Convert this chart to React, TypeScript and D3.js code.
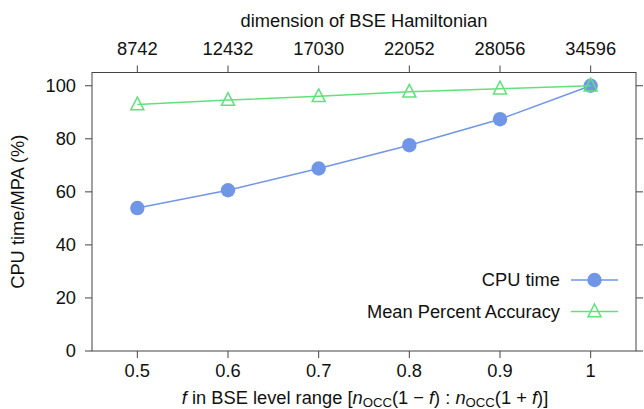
import React from "react";
import * as d3 from "d3";

const fValues = [0.5, 0.6, 0.7, 0.8, 0.9, 1.0];
const dimLabels = ["8742", "12432", "17030", "22052", "28056", "34596"];
const cpuTime = [53.9, 60.6, 68.8, 77.6, 87.4, 100];
const mpa = [92.9, 94.6, 96.0, 97.7, 98.9, 100];
const yTicks = [0, 20, 40, 60, 80, 100];
const xTickLabels = ["0.5", "0.6", "0.7", "0.8", "0.9", "1"];

const W = 644, H = 409;
const L = 92, R = 636, T = 72.5, B = 351;
const BLUE = "#7096e6";
const GREEN = "#5fe27c";
const AX = "#444";
const FONT = "'Liberation Sans', Arial, sans-serif";
const FS = 18.3;

export default function App() {
  const x = d3.scaleLinear().domain([0.45, 1.05]).range([L, R]);
  const y = d3.scaleLinear().domain([0, 105]).range([B, T]);
  const line = d3.line<number>().x((_, i) => x(fValues[i])).y((d) => y(d));
  const tri = (cx: number, cy: number, s = 6.5) =>
    `M${cx},${cy - s - 1}L${cx + s},${cy + s * 0.8}L${cx - s},${cy + s * 0.8}Z`;
  const tk = 7;
  return (
    <svg width={W} height={H} style={{ position: "absolute", left: 0, top: 0 }} fontFamily={FONT}>
      <rect width={W} height={H} fill="#fff" />
      {/* frame */}
      <rect x={L} y={T} width={R - L} height={B - T} fill="none" stroke={AX} strokeWidth={1} />
      {/* y ticks left & right */}
      {yTicks.map((t) => (
        <g key={"y" + t}>
          <line x1={L - tk} x2={L} y1={y(t)} y2={y(t)} stroke={AX} />
          <line x1={R} x2={R + tk} y1={y(t)} y2={y(t)} stroke={AX} />
          <text x={L - 16} y={y(t)} dy="0.35em" textAnchor="end" fontSize={FS} fill="#111">
            {t}
          </text>
        </g>
      ))}
      {/* x ticks bottom & top */}
      {fValues.map((f, i) => (
        <g key={"x" + f}>
          <line x1={x(f)} x2={x(f)} y1={B} y2={B + tk} stroke={AX} />
          <line x1={x(f)} x2={x(f)} y1={T - tk} y2={T} stroke={AX} />
          <text x={x(f)} y={377} textAnchor="middle" fontSize={FS} fill="#111">
            {xTickLabels[i]}
          </text>
          <text x={x(f)} y={55} textAnchor="middle" fontSize={FS} fill="#111">
            {dimLabels[i]}
          </text>
        </g>
      ))}
      {/* axis titles */}
      <text x={(L + R) / 2 - 0} y={27} textAnchor="middle" fontSize={FS} fill="#111">
        dimension of BSE Hamiltonian
      </text>
      <text x={365} y={404} textAnchor="middle" fontSize={FS} fill="#111">
        <tspan fontStyle="italic">f</tspan> in BSE level range [<tspan fontStyle="italic">n</tspan>
        <tspan fontSize={FS * 0.72} dy="3">OCC</tspan>
        <tspan dy="-3">(1 − </tspan>
        <tspan fontStyle="italic">f</tspan>) : <tspan fontStyle="italic">n</tspan>
        <tspan fontSize={FS * 0.72} dy="3">OCC</tspan>
        <tspan dy="-3">(1 + </tspan>
        <tspan fontStyle="italic">f</tspan>)]
      </text>
      <text transform={`translate(24,${(T + B) / 2}) rotate(-90)`} textAnchor="middle" fontSize={FS} fill="#111">
        CPU time/MPA (%)
      </text>
      {/* series */}
      <path d={line(cpuTime) || ""} fill="none" stroke={BLUE} strokeWidth={1.5} />
      {cpuTime.map((v, i) => (
        <circle key={"c" + i} cx={x(fValues[i])} cy={y(v)} r={7.2} fill={BLUE} />
      ))}
      <path d={line(mpa) || ""} fill="none" stroke={GREEN} strokeWidth={1.5} />
      {mpa.map((v, i) => (
        <path key={"t" + i} d={tri(x(fValues[i]), y(v))} fill="none" stroke={GREEN} strokeWidth={1.5} />
      ))}
      {/* legend */}
      <text x={560} y={280} dy="0.35em" textAnchor="end" fontSize={FS} fill="#111">CPU time</text>
      <line x1={571} x2={618} y1={280} y2={280} stroke={BLUE} strokeWidth={1.5} />
      <circle cx={594.5} cy={280} r={7.2} fill={BLUE} />
      <text x={560} y={311.5} dy="0.35em" textAnchor="end" fontSize={FS} fill="#111">Mean Percent Accuracy</text>
      <line x1={571} x2={618} y1={311.5} y2={311.5} stroke={GREEN} strokeWidth={1.5} />
      <path d={tri(594.5, 311.5)} fill="none" stroke={GREEN} strokeWidth={1.5} />
    </svg>
  );
}
